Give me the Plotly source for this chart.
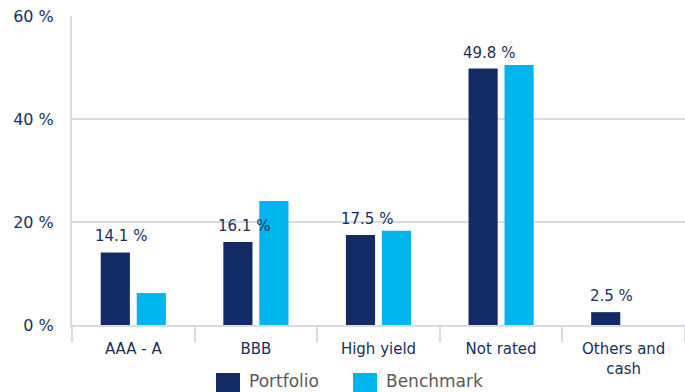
import plotly.graph_objects as go

categories = ["AAA - A", "BBB", "High yield", "Not rated", "Others and<br>cash"]
portfolio = [14.1, 16.1, 17.5, 49.8, 2.5]
benchmark = [6.2, 24.1, 18.3, 50.5, 0.0]
portfolio_labels = ["14.1 %", "16.1 %", "17.5 %", "49.8 %", "2.5 %"]
series_names = ["Portfolio", "Benchmark"]
y_ticks = [0, 20, 40, 60]
y_ticklabels = ["0 %", "20 %", "40 %", "60 %"]

navy = "#132b65"
cyan = "#00b4ec"
text_col = "#1b2f5e"
grid_col = "#d5dce8"
font_fam = "DejaVu Sans"

fig = go.Figure()
fig.add_trace(go.Bar(x=categories, y=portfolio, name=series_names[0], marker_color=navy,
                     marker_line_width=0, hoverinfo="skip", showlegend=False))
fig.add_trace(go.Bar(x=categories, y=benchmark, name=series_names[1], marker_color=cyan,
                     marker_line_width=0, hoverinfo="skip", showlegend=False))

for c, v, t in zip(categories, portfolio, portfolio_labels):
    fig.add_annotation(x=c, y=v, text=t, xref="x", yref="y", showarrow=False,
                       yanchor="bottom", xshift=-12, yshift=5,
                       font=dict(family=font_fam, size=15, color=text_col))

# custom legend (large square swatches like the reference)
legend_items = [(series_names[0], navy, 216), (series_names[1], cyan, 353)]
for name, col, px in legend_items:
    x0 = (px - 72) / 613
    x1 = (px + 24 - 72) / 613
    fig.add_shape(type="rect", xref="paper", yref="paper", x0=x0, x1=x1,
                  y0=(325 - 395) / 309, y1=(325 - 373) / 309,
                  fillcolor=col, line_width=0)
    fig.add_annotation(xref="paper", yref="paper", x=(px + 31 - 72) / 613,
                       y=(325 - 381) / 309, text=name, showarrow=False,
                       xanchor="left", yanchor="middle",
                       font=dict(family=font_fam, size=17, color="#595959"))

fig.update_layout(
    width=685, height=392,
    margin=dict(l=72, r=0, t=16, b=67),
    paper_bgcolor="white", plot_bgcolor="white",
    barmode="group", bargap=0.413, bargroupgap=0.19,
    font=dict(family=font_fam, size=15, color=text_col),
    showlegend=False,
)
fig.update_xaxes(showgrid=False, showline=True, linecolor=grid_col, linewidth=2,
                 ticks="outside", tickson="boundaries", ticklen=15, tickcolor=grid_col,
                 tickwidth=2, tickfont=dict(family=font_fam, size=15, color=text_col),
                 ticklabelstandoff=9, automargin=False)
fig.update_yaxes(range=[0, 60], tickvals=y_ticks, ticktext=y_ticklabels,
                 showgrid=True, gridcolor=grid_col, gridwidth=2,
                 showline=True, linecolor=grid_col, linewidth=2,
                 zeroline=False, ticks="", ticklabelstandoff=13, automargin=False,
                 tickfont=dict(family=font_fam, size=16, color=text_col))

fig.write_html("out.html")
